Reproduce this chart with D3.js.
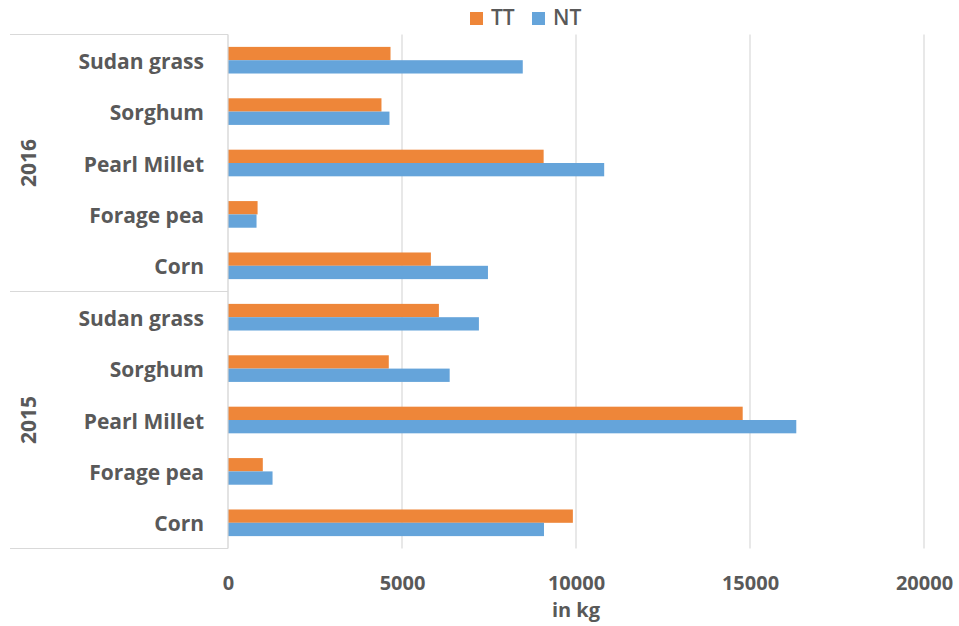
<!DOCTYPE html>
<html>
<head>
<meta charset="utf-8">
<script src="https://cdn.jsdelivr.net/npm/d3@7/dist/d3.min.js"></script>
<style>
  html, body { margin: 0; padding: 0; background: #fff; }
  svg { display: block; font-family: "Open Sans", "Noto Sans", sans-serif; }
</style>
</head>
<body>
<svg id="chart" width="959" height="626"></svg>
<script>
// Yield per crop, grouped by year (top-to-bottom order as displayed)
const years = ["2016", "2015"];
const crops = ["Sudan grass", "Sorghum", "Pearl Millet", "Forage pea", "Corn"];
const series = ["TT", "NT"];
const tt2016 = [4670, 4410, 9070, 850, 5830];
const nt2016 = [8470, 4640, 10810, 820, 7470];
const tt2015 = [6060, 4620, 14790, 1000, 9910];
const nt2015 = [7210, 6370, 16330, 1280, 9080];
const xTicks = [0, 5000, 10000, 15000, 20000];
const colors = { TT: "#EE8639", NT: "#65A4DA" };

const values = { "2016": { TT: tt2016, NT: nt2016 }, "2015": { TT: tt2015, NT: nt2015 } };
const rows = [];
years.forEach(y => crops.forEach((c, i) => {
  rows.push({ key: y + "|" + c, year: y, crop: c, TT: values[y].TT[i], NT: values[y].NT[i] });
}));

const svg = d3.select("#chart");
const plot = { left: 228, right: 924, top: 34.5, bottom: 548.5 };
const textColor = "#595959";

const x = d3.scaleLinear().domain([0, 20000]).range([plot.left, plot.right]);
const y = d3.scaleBand().domain(rows.map(r => r.key)).range([plot.top, plot.bottom]).padding(0);
const ySub = d3.scaleBand().domain(series).range([0, y.bandwidth()]).paddingInner(0).paddingOuter(0.93);

// vertical gridlines
svg.append("g")
  .selectAll("line")
  .data(xTicks.slice(1))
  .join("line")
  .attr("x1", d => x(d)).attr("x2", d => x(d))
  .attr("y1", plot.top).attr("y2", plot.bottom)
  .attr("stroke", "#D9D9D9").attr("stroke-width", 1.2);

// bars
const rowG = svg.append("g")
  .selectAll("g")
  .data(rows)
  .join("g")
  .attr("transform", d => `translate(0,${y(d.key)})`);

rowG.selectAll("rect")
  .data(d => series.map(s => ({ s, v: d[s] })))
  .join("rect")
  .attr("x", x(0))
  .attr("y", d => ySub(d.s))
  .attr("width", d => x(d.v) - x(0))
  .attr("height", ySub.bandwidth())
  .attr("fill", d => colors[d.s]);

// category axis line
svg.append("line")
  .attr("x1", plot.left).attr("x2", plot.left)
  .attr("y1", plot.top).attr("y2", plot.bottom)
  .attr("stroke", "#D0D0D0").attr("stroke-width", 1.2);

// group separators for the multi-level category axis
const groupEdges = [plot.top, y(years[1] + "|" + crops[0]), plot.bottom];
svg.append("g")
  .selectAll("line")
  .data(groupEdges)
  .join("line")
  .attr("x1", 10).attr("x2", plot.left)
  .attr("y1", d => d).attr("y2", d => d)
  .attr("stroke", "#D9D9D9").attr("stroke-width", 1.2);

// crop labels
svg.append("g")
  .selectAll("text")
  .data(rows)
  .join("text")
  .attr("x", plot.left - 24)
  .attr("y", d => y(d.key) + y.bandwidth() / 2 + 3)
  .attr("text-anchor", "end")
  .attr("dominant-baseline", "middle")
  .attr("font-size", 21)
  .attr("font-weight", 700)
  .attr("fill", textColor)
  .text(d => d.crop);

// year labels
svg.append("g")
  .selectAll("text")
  .data(years)
  .join("text")
  .attr("transform", (d, i) => {
    const cy = (groupEdges[i] + groupEdges[i + 1]) / 2;
    return `translate(30,${cy}) rotate(-90)`;
  })
  .attr("text-anchor", "middle")
  .attr("dominant-baseline", "middle")
  .attr("font-size", 21)
  .attr("font-weight", 700)
  .attr("fill", textColor)
  .text(d => d);

// value axis
const xAxis = d3.axisBottom(x).tickValues(xTicks).tickSize(0).tickPadding(0).tickFormat(d3.format("d"));
const xg = svg.append("g").attr("transform", `translate(0,${plot.bottom})`).call(xAxis);
xg.select(".domain").remove();
xg.selectAll("text")
  .attr("y", 34)
  .attr("dy", "0.35em")
  .attr("font-family", "'Open Sans', sans-serif")
  .attr("font-size", 20)
  .attr("font-weight", 700)
  .attr("fill", textColor);

svg.append("text")
  .attr("x", x(10000))
  .attr("y", 612)
  .attr("text-anchor", "middle")
  .attr("dominant-baseline", "middle")
  .attr("font-size", 20)
  .attr("font-weight", 700)
  .attr("fill", textColor)
  .text("in kg");

// legend
const legend = svg.append("g").selectAll("g")
  .data(series)
  .join("g")
  .attr("transform", (d, i) => `translate(${470 + i * 62},12)`);
legend.append("rect")
  .attr("width", 13).attr("height", 13)
  .attr("fill", d => colors[d]);
legend.append("text")
  .attr("x", 21).attr("y", 7.5)
  .attr("dominant-baseline", "middle")
  .attr("font-size", 21)
  .attr("font-weight", 600)
  .attr("fill", textColor)
  .text(d => d);
</script>
</body>
</html>
